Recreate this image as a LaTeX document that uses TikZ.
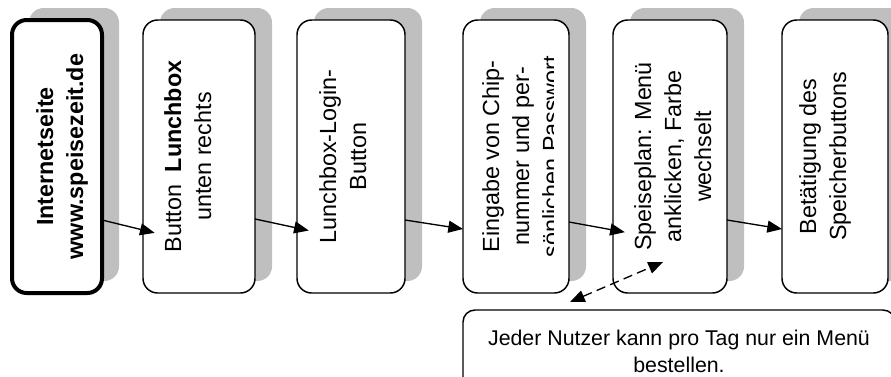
\documentclass[tikz,border=0pt]{standalone}
\usepackage{fontspec}
\setmainfont{Liberation Sans}
\usetikzlibrary{arrows.meta,shadows}

\newcommand{\vtext}[1]{\rotatebox{90}{\begin{tabular}{@{}c@{}}#1\end{tabular}}}

\begin{document}
\begin{tikzpicture}[x=0.75pt,y=0.75pt,
    stepbox/.style={draw, fill=white, rounded corners=11pt, line width=1.1pt,
      minimum height=204.75pt, inner sep=0pt, outer sep=0pt,
      drop shadow={shadow xshift=12.75pt, shadow yshift=9pt, fill=gray!50, opacity=1}},
    steptext/.style={inner sep=0pt, font=\fontsize{17.5}{22.5}\selectfont},
    notebox/.style={draw, fill=white, rounded corners=9pt, line width=1.1pt,
      minimum width=324pt, minimum height=62.25pt, inner sep=0pt, align=center,
      font=\fontsize{16}{20.25}\selectfont},
    flow/.style={-{Triangle[length=11pt,width=9pt]}, line width=1pt},
    link/.style={{Triangle[length=11pt,width=9pt]}-{Triangle[length=11pt,width=9pt]},
      line width=1pt, dash pattern=on 7pt off 4pt}]
  \useasboundingbox (0,0) rectangle (891,376);
  \clip (0,0) rectangle (891,376);

  % the steps, left to right
  \node[stepbox, line width=3pt, minimum width=67.5pt] (b1) at (57,219.5) {};
  \node[stepbox, minimum width=84pt] (b2) at (199,219.5) {};
  \node[stepbox, minimum width=81pt] (b3) at (351,219.5) {};
  \node[stepbox, minimum width=79.5pt] (b4) at (516,219.5) {};
  \node[stepbox, minimum width=85.5pt] (b5) at (670,219.5) {};
  \node[stepbox, minimum width=79.5pt] (b6) at (835,219.5) {};

  % their texts
  \node[steptext] (t1) at ([xshift=3.75pt]b1.center)
    {\vtext{\bfseries Internetseite\\\bfseries www.speisezeit.de}};
  \node[steptext] (t2) at ([xshift=-6.75pt]b2.center)
    {\vtext{Button \ \textbf{Lunchbox}\\unten rechts}};
  \node[steptext] (t3) at ([xshift=-4.5pt]b3.center)
    {\vtext{Lunchbox-Login-\\Button}};
  \begin{scope}
    \clip (463,83) rectangle (553,356);
    \node[steptext] (t4) at ([xshift=5.25pt]b4.center)
      {\vtext{Eingabe von Chip-\\nummer und per-\\sönlichen Passwort}};
  \end{scope}
  \node[steptext] (t5) at ([xshift=3.75pt]b5.center)
    {\vtext{Speiseplan: Menü\\anklicken, Farbe\\wechselt}};
  \node[steptext] (t6) at ([xshift=-7.5pt]b6.center)
    {\vtext{Betätigung des\\Speicherbuttons}};

  \node[notebox] (note) at (679,24.5)
    {Jeder Nutzer kann pro Tag nur ein Menü\\bestellen.};

  % connectors
  \draw[flow, shorten >=-9pt] (b1.east |- 0,156) -- (b2.west |- 0,146);
  \draw[flow, shorten >=-9pt] (b2.east |- 0,157) -- (b3.west |- 0,148);
  \draw[flow] (b3.east |- 0,156) -- (b4.west |- 0,147);
  \draw[flow, shorten >=-9pt] (b4.east |- 0,154) -- (b5.west |- 0,146);
  \draw[flow] (b5.east |- 0,156) -- (b6.west |- 0,147);

  \coordinate (dA) at (570,74);
  \coordinate (dB) at (663,114);
  \draw[link] (dA) -- (dB);
\end{tikzpicture}
\end{document}
